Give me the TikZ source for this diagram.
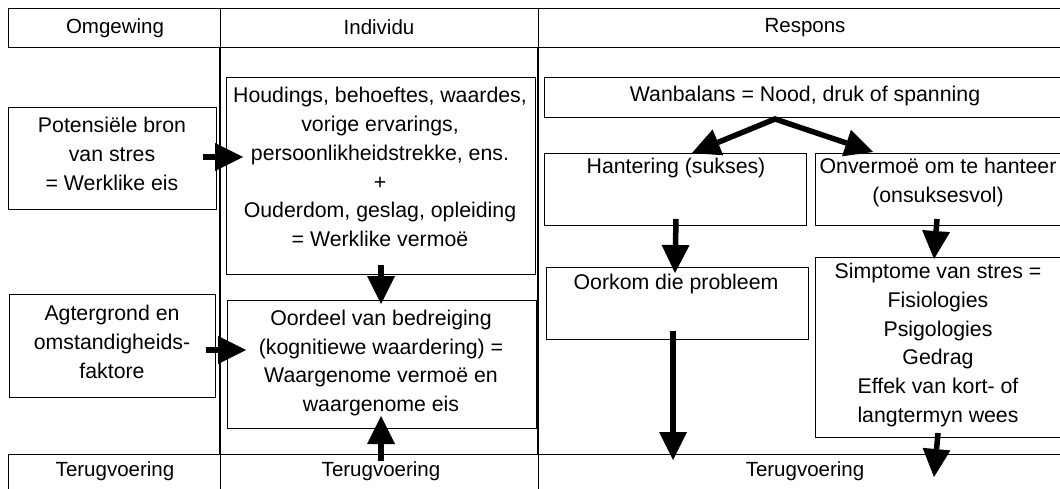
\documentclass[tikz,border=0pt]{standalone}
\usepackage{fontspec}
\setmainfont{Liberation Sans}
\usetikzlibrary{arrows.meta}

\tikzset{
  rule/.style={line width=1.3pt},
  cell/.style={draw, line width=1.3pt, inner sep=0pt, anchor=north west},
  box/.style={draw, line width=1.2pt, inner sep=0pt, anchor=north west},
  txt/.style={align=center, inner sep=0pt, font=\fontsize{21.3}{28.9}\selectfont},
  head/.style={align=center, inner sep=0pt, font=\fontsize{20.5}{24}\selectfont},
  fat/.style={line width=5.5pt, -{Triangle[length=28pt,width=28pt,line width=0pt]}},
  fork/.style={line width=5.5pt, line join=miter,
    {Triangle[length=28pt,width=28pt,line width=0pt]}-{Triangle[length=28pt,width=28pt,line width=0pt]}}
}

\begin{document}
\begin{tikzpicture}[x=1pt,y=-1pt]
\useasboundingbox (0,0) rectangle (1060,489);
\clip (0,0) rectangle (1060,489);

% header and footer rows of the table
\node[cell,minimum width=212pt,minimum height=39pt] (c-omg) at (8,8) {};
\node[cell,minimum width=318pt,minimum height=39pt] (c-ind) at (220,8) {};
\node[cell,minimum width=540pt,minimum height=39pt] (c-res) at (538,8) {};
\node[cell,minimum width=212pt,minimum height=50pt] (f-omg) at (8,454) {};
\node[cell,minimum width=318pt,minimum height=50pt] (f-ind) at (220,454) {};
\node[cell,minimum width=540pt,minimum height=50pt] (f-res) at (538,454) {};
\draw[rule] (c-ind.south west) -- (f-ind.north west);
\draw[rule] (c-res.south west) -- (f-res.north west);

\node[head] (t-omg) at (115,28) {Omgewing};
\node[head] (t-ind) at (379,27) {Individu};
\node[head] (t-res) at (805,28) {Respons};
\node[head] (b-omg) at (115,471) {Terugvoering};
\node[head] (b-ind) at (381,471) {Terugvoering};
\node[head] (b-res) at (805,471) {Terugvoering};

% boxes
\node[box,minimum width=208pt,minimum height=102pt] (pot) at (8,107) {};
\node[box,minimum width=206pt,minimum height=103pt] (agt) at (8.5,294) {};
\node[box,minimum width=309pt,minimum height=197pt] (hou) at (226,77) {};
\node[box,minimum width=309.5pt,minimum height=128pt] (oor) at (226.5,300) {};
\node[box,minimum width=540pt,minimum height=40pt] (wan) at (543.5,77) {};
\node[box,minimum width=262.5pt,minimum height=72pt] (han) at (543.5,153) {};
\node[box,minimum width=260pt,minimum height=72pt] (onv) at (815,153) {};
\node[box,minimum width=262pt,minimum height=72pt] (oork) at (546,267) {};
\node[box,minimum width=260pt,minimum height=180pt] (simp) at (815,257) {};

% box texts
\node[txt] (pot-t) at (112,154) {Potensiële bron\\van stres\\= Werklike eis};
\node[txt] (agt-t) at (112,341.5) {Agtergrond en\\omstandigheids-\\faktore};
\node[txt] (hou-t) at (380,167) {Houdings, behoeftes, waardes,\\vorige ervarings,\\persoonlikheidstrekke, ens.\\+\\Ouderdom, geslag, opleiding\\= Werklike vermoë};
\node[txt] (oor-t) at (381,363) {Oordeel van bedreiging\\(kognitiewe waardering) =\\Waargenome vermoë en\\waargenome eis};
\node[txt] (wan-t) at (805,96) {Wanbalans = Nood, druk of spanning};
\node[txt] (han-t) at (676,168) {Hantering (sukses)};
\node[txt] (onv-t) at (938,182.5) {Onvermoë om te hanteer\\(onsuksesvol)};
\node[txt] (oork-t) at (676,284) {Oorkom die probleem};
\node[txt] (simp-t) at (938,345) {Simptome van stres =\\Fisiologies\\Psigologies\\Gedrag\\Effek van kort- of\\langtermyn wees};

% arrow end points
\coordinate (a1s) at (203,157);   \coordinate (a1e) at (243,157);
\coordinate (a2s) at (206,350);   \coordinate (a2e) at (246,350);
\coordinate (a3s) at (381,265);   \coordinate (a3e) at (381,304);
\coordinate (a4s) at (381,461);   \coordinate (a4e) at (381,416);
\coordinate (fork) at (775,119);
\coordinate (fl) at (692,153);    \coordinate (fr) at (873,152);
\coordinate (a7s) at (676,219);   \coordinate (a7e) at (675,273);
\coordinate (a8s) at (937,219);   \coordinate (a8e) at (934,259);
\coordinate (a9s) at (673,331);   \coordinate (a9e) at (673,460);
\coordinate (a10s) at (938,433);  \coordinate (a10e) at (934,477);

% arrows
\draw[fat] (a1s) -- (a1e);
\draw[fat] (a2s) -- (a2e);
\draw[fat] (a3s) -- (a3e);
\draw[fat] (a4s) -- (a4e);
\draw[fork] (fl) -- (fork) -- (fr);
\draw[fat] (a7s) -- (a7e);
\draw[fat] (a8s) -- (a8e);
\draw[fat] (a9s) -- (a9e);
\draw[fat] (a10s) -- (a10e);
\end{tikzpicture}
\end{document}
